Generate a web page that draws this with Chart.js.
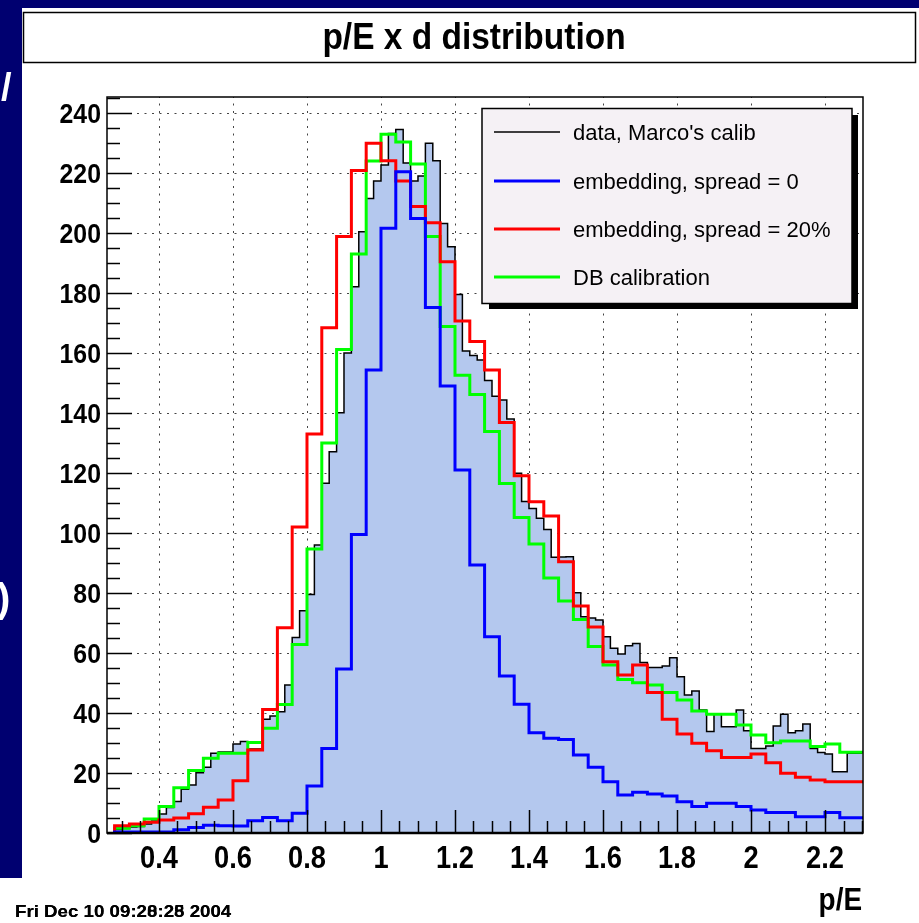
<!DOCTYPE html>
<html lang="en">
<head>
    <meta charset="UTF-8">
    <title>p/E x d distribution</title>
    <script src="https://cdn.jsdelivr.net/npm/chart.js"></script>
    <style>
        html, body { margin: 0; padding: 0; background: #fff; }
        canvas { display: block; }
    </style>
</head>
<body>
    <canvas id="chart" width="919" height="923"></canvas>

    <script>
        // histogram binning
        const binStart = 0.28;
        const dataBinWidth = 0.02;
        const simBinWidth = 0.04;

        // data, Marco's calib (0.02 bins from 0.28)
        const dataCounts = [
            1.2, 1.5, 2, 2.2, 3, 4, 6.3, 8.5, 10.5, 14.6,
            16, 20.1, 21.9, 26.6, 27, 27, 29.7, 30.5, 28, 28,
            37.9, 39, 40.4, 49.3, 65.2, 74.1, 79.5, 96, 116.6, 127.1,
            140.1, 160, 182.1, 200.4, 211.5, 217.3, 222.7, 233.2, 234.5, 223.3,
            217.3, 219, 229.9, 224.1, 203.2, 195.4, 179.5, 160.7, 159.2, 157.7,
            150.8, 145.6, 144.3, 138, 119.9, 110.5, 108.2, 104.9, 101.2, 91.9,
            92, 92.1, 80.1, 72.1, 71.7, 71, 65.4, 61.6, 59.7, 62.4,
            63.2, 56.8, 55.2, 55.2, 55.7, 58.4, 52.1, 46, 47.3, 41,
            33.8, 39.6, 35.4, 35.4, 41, 34.1, 28.2, 28.2, 29, 35.7,
            39.6, 33.4, 34.1, 36.3, 28.2, 26.8, 26.3, 20.4, 20.4, 26.6,
            26.6
        ];

        // embedding, spread = 0 (0.04 bins from 0.28)
        const spread0 = [
            0.3, 0.3, 0.3, 0.3, 1.1, 1.8, 2.6, 2.4, 2.3, 4.1,
            5.2, 4.1, 6.6, 15.7, 28.2, 54.7, 99.5, 154.3, 201.6, 220.4,
            204.8, 175.2, 149, 121, 89.3, 65.4, 52.3, 42.9, 33.4, 31.6,
            31.2, 26, 21.9, 17.1, 12.7, 13.6, 13, 12.3, 10.4, 8.8,
            9.9, 9.9, 8.8, 7.7, 6.8, 6.8, 5.4, 5.4, 6.8, 5.1,
            5.1
        ];

        // embedding, spread = 20%
        const spread20 = [
            2.4, 3, 3.6, 4.3, 5, 6.4, 8.6, 11, 17.4, 27.7,
            41.2, 68.4, 102, 133, 168.4, 198.8, 220.8, 229.9, 224.1, 217.3,
            208.8, 203.4, 190.4, 170.7, 163.8, 154.3, 136.8, 119.1, 110.4, 105.7,
            90.4, 75.7, 68.7, 57.1, 52.7, 56, 46.8, 37.9, 33, 29.9,
            27.4, 25.2, 25.2, 26.3, 23.4, 19.9, 18.6, 17.7, 17.1, 17.1,
            17.1
        ];

        // DB calibration
        const dbCalib = [
            1.6, 2.4, 4.7, 8.8, 15.1, 20.8, 24.9, 26.6, 26.6, 30.2,
            34.9, 42.8, 62.8, 94.7, 130, 161.2, 193, 224, 232.9, 230.3,
            223, 198.8, 168.8, 152.6, 146.2, 133.8, 116.5, 105.2, 96.3, 85,
            77.3, 71.2, 62.2, 56, 51.2, 50.1, 49.3, 46.8, 44.3, 40.7,
            39.6, 39.6, 36, 32.7, 30.1, 30.7, 30.7, 28.8, 29.7, 26.9,
            26.9
        ];

        const seriesLabels = ["data, Marco's calib", 'embedding, spread = 0', 'embedding, spread = 20%', 'DB calibration'];
        const xTicks = [0.4, 0.6, 0.8, 1, 1.2, 1.4, 1.6, 1.8, 2, 2.2];
        const yTicks = [0, 20, 40, 60, 80, 100, 120, 140, 160, 180, 200, 220, 240];

        const navy = '#000070';
        const fillBlue = '#b4c8ee';

        // turn bin contents into step points: (left edge, value) + closing edge
        function toSteps(counts, width) {
            const pts = [{x: binStart, y: 0}];
            counts.forEach((v, i) => pts.push({x: binStart + i * width, y: v}));
            pts.push({x: binStart + counts.length * width, y: counts[counts.length - 1]});
            return pts;
        }

        // text squeezed horizontally like the ROOT fonts
        function drawText(ctx, s, x, y, font, align, sx, color) {
            ctx.save();
            ctx.font = font;
            ctx.fillStyle = color || '#000';
            ctx.textAlign = align;
            ctx.textBaseline = 'alphabetic';
            ctx.translate(x, y);
            ctx.scale(sx, 1);
            ctx.fillText(s, 0, 0);
            ctx.restore();
        }

        const rootStyle = {
            id: 'rootStyle',
            beforeDraw(chart) {
                const ctx = chart.ctx;
                ctx.save();
                ctx.fillStyle = navy;
                ctx.fillRect(0, 0, 919, 923);
                ctx.fillStyle = '#fff';
                ctx.fillRect(22, 8, 897, 915);
                ctx.fillRect(0, 878, 22, 45);
                // bits of slide text peeking in on the left
                drawText(ctx, '/', 1, 100, 'bold 38px "Liberation Sans"', 'left', 1, '#fff');
                drawText(ctx, ')', -3, 612, 'bold 40px "Liberation Sans"', 'left', 1, '#fff');
                // title box
                ctx.strokeStyle = '#000';
                ctx.lineWidth = 1.5;
                ctx.strokeRect(23.5, 12.5, 892, 50);
                drawText(ctx, 'p/E x d distribution', 474, 49, 'bold 36px "Liberation Sans"', 'center', 0.93);
                ctx.restore();
            },
            beforeDatasetsDraw(chart) {
                const ctx = chart.ctx;
                const a = chart.chartArea;
                const xs = chart.scales.x, ys = chart.scales.y;
                ctx.save();
                ctx.strokeStyle = '#444';
                ctx.lineWidth = 1;
                ctx.setLineDash([2, 5.5]);
                xTicks.forEach(v => {
                    const px = Math.round(xs.getPixelForValue(v)) + 0.5;
                    ctx.beginPath();
                    ctx.moveTo(px, a.bottom);
                    ctx.lineTo(px, a.top);
                    ctx.stroke();
                });
                yTicks.forEach(v => {
                    const py = Math.round(ys.getPixelForValue(v)) + 0.5;
                    ctx.beginPath();
                    ctx.moveTo(a.left, py);
                    ctx.lineTo(a.right, py);
                    ctx.stroke();
                });
                ctx.restore();
            },
            afterDatasetsDraw(chart) {
                const ctx = chart.ctx;
                const a = chart.chartArea;
                const xs = chart.scales.x, ys = chart.scales.y;
                ctx.save();
                // frame
                ctx.strokeStyle = '#000';
                ctx.lineWidth = 1.5;
                ctx.strokeRect(a.left, a.top, a.right - a.left, a.bottom - a.top);
                ctx.lineWidth = 2.5;
                ctx.beginPath();
                ctx.moveTo(a.left, a.bottom);
                ctx.lineTo(a.right, a.bottom);
                ctx.stroke();

                // ticks drawn inside the frame
                ctx.lineWidth = 1.5;
                for (let v = 0.3; v < 2.31; v += 0.05) {
                    const px = Math.round(xs.getPixelForValue(v)) + 0.5;
                    const major = Math.abs(v * 5 - Math.round(v * 5)) < 0.01;
                    ctx.beginPath();
                    ctx.moveTo(px, a.bottom);
                    ctx.lineTo(px, a.bottom - (major ? 23 : 12));
                    ctx.stroke();
                }
                for (let v = 0; v <= 245; v += 5) {
                    const py = Math.round(ys.getPixelForValue(v)) + 0.5;
                    ctx.beginPath();
                    ctx.moveTo(a.left, py);
                    ctx.lineTo(a.left + (v % 20 === 0 ? 25 : 13), py);
                    ctx.stroke();
                }

                // tick labels
                xTicks.forEach(v => {
                    drawText(ctx, String(v), xs.getPixelForValue(v), 868, 'bold 31px "Liberation Sans"', 'center', 0.88);
                });
                yTicks.forEach(v => {
                    drawText(ctx, String(v), 101, ys.getPixelForValue(v) + 10, 'bold 27px "Liberation Sans"', 'right', 0.92);
                });
                drawText(ctx, 'p/E', 862, 910, 'bold 31px "Liberation Sans"', 'right', 0.9);

                // date stamp (printed twice over itself, as in the original)
                drawText(ctx, 'Fri Dec 10 09:28:28 2004', 15, 917, 'bold 17px "Liberation Sans"', 'left', 1.1);
                drawText(ctx, 'Fri Dec 10 09:20:25 2004', 15, 917, 'bold 17px "Liberation Sans"', 'left', 1.1);

                // legend box with shadow
                ctx.fillStyle = '#000';
                ctx.fillRect(489, 303, 369, 6);
                ctx.fillRect(852, 115, 6, 194);
                ctx.fillStyle = '#f5f1f5';
                ctx.fillRect(482, 108.5, 370, 195);
                ctx.lineWidth = 1.5;
                ctx.strokeRect(482, 108.5, 370, 195);
                const colors = ['#000', '#0000ff', '#ff0000', '#00ff00'];
                const rowsY = [132, 181, 229, 277];
                seriesLabels.forEach((label, i) => {
                    ctx.strokeStyle = colors[i];
                    ctx.lineWidth = i === 0 ? 1.5 : 3;
                    ctx.beginPath();
                    ctx.moveTo(494, rowsY[i]);
                    ctx.lineTo(560, rowsY[i]);
                    ctx.stroke();
                    drawText(ctx, label, 573, rowsY[i] + 8, '22px "Liberation Sans"', 'left', 1);
                });
                ctx.restore();
            }
        };

        new Chart(document.getElementById('chart'), {
            type: 'line',
            data: {
                datasets: [
                    {
                        label: seriesLabels[1],
                        data: toSteps(spread0, simBinWidth),
                        borderColor: '#0000ff',
                        borderWidth: 3,
                        order: 1
                    },
                    {
                        label: seriesLabels[2],
                        data: toSteps(spread20, simBinWidth),
                        borderColor: '#ff0000',
                        borderWidth: 3,
                        order: 2
                    },
                    {
                        label: seriesLabels[3],
                        data: toSteps(dbCalib, simBinWidth),
                        borderColor: '#00ff00',
                        borderWidth: 3,
                        order: 3
                    },
                    {
                        label: seriesLabels[0],
                        data: toSteps(dataCounts, dataBinWidth),
                        borderColor: '#000',
                        borderWidth: 1.5,
                        backgroundColor: fillBlue,
                        fill: 'origin',
                        order: 10
                    }
                ]
            },
            options: {
                responsive: false,
                animation: false,
                devicePixelRatio: 1,
                layout: { padding: { left: 107, right: 56, top: 97, bottom: 90 } },
                elements: {
                    point: { radius: 0 },
                    line: { stepped: 'before', tension: 0 }
                },
                scales: {
                    x: { type: 'linear', display: false, min: 0.2595, max: 2.3027 },
                    y: { type: 'linear', display: false, min: 0, max: 245.33 }
                },
                plugins: {
                    legend: { display: false },
                    tooltip: { enabled: false }
                }
            },
            plugins: [rootStyle]
        });
    </script>
</body>
</html>
